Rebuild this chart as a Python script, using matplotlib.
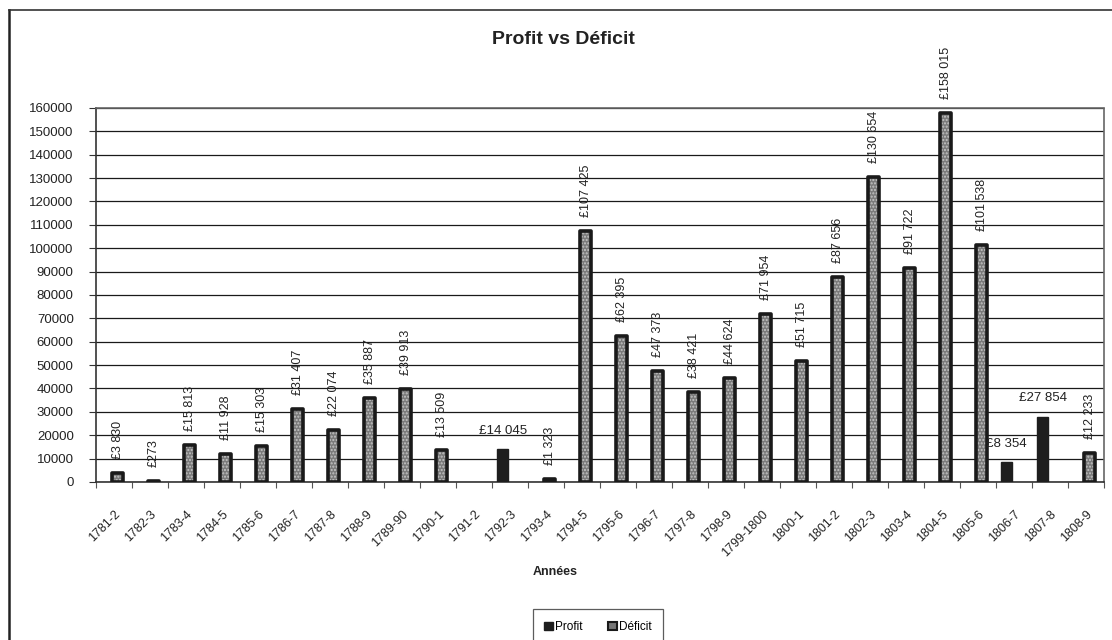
import numpy as np
import matplotlib as mpl
mpl.use('Agg')
import matplotlib.pyplot as plt
from matplotlib.lines import Line2D
from matplotlib.patches import Patch

plt.rcParams['font.family'] = ['Liberation Sans', 'DejaVu Sans']

# data
years = ['1781-2', '1782-3', '1783-4', '1784-5', '1785-6', '1786-7', '1787-8',
         '1788-9', '1789-90', '1790-1', '1791-2', '1792-3', '1793-4', '1794-5',
         '1795-6', '1796-7', '1797-8', '1798-9', '1799-1800', '1800-1', '1801-2',
         '1802-3', '1803-4', '1804-5', '1805-6', '1806-7', '1807-8', '1808-9']
deficit = [3830, 273, 15813, 11928, 15303, 31407, 22074, 35887, 39913, 13509,
           None, None, 1323, 107425, 62395, 47373, 38421, 44624, 71954, 51715,
           87656, 130654, 91722, 158015, 101538, None, None, 12233]
profit = [None] * 11 + [14045] + [None] * 13 + [8354, 27854, None]
yticks = np.arange(0, 160001, 10000)

def money(v):
    return '£' + format(v, ',').replace(',', ' ')

fig = plt.figure(figsize=(11.12, 6.4), dpi=100)
ax = fig.add_axes([0.0863, 0.2469, 0.9065, 0.5844])

idx = np.arange(len(years))
w = 0.3
def_x = [i + 0.1 for i, v in zip(idx, deficit) if v is not None]
def_y = [v for v in deficit if v is not None]
pro_x = [i - 0.2 for i, v in zip(idx, profit) if v is not None]
pro_y = [v for v in profit if v is not None]

ax.set_axisbelow(True)
ax.grid(axis='y', color='#1a1a1a', linewidth=0.9)

# deficit: grey speckled fill with a heavy dark outline
ax.bar(def_x, def_y, w, color='#7a7a7a', edgecolor='#c4c4c4', hatch='.....',
       linewidth=0, zorder=2)
ax.bar(def_x, def_y, w, facecolor='none', edgecolor='#1a1a1a', linewidth=2.6,
       joinstyle='round', zorder=3)
ax.bar(pro_x, pro_y, w, color='#1e1e1e', edgecolor='#1e1e1e', linewidth=1,
       zorder=3)

for x, v in zip(def_x, def_y):
    ax.annotate(money(v), (x, v), xytext=(0, 10), textcoords='offset points',
                rotation=90, ha='center', va='bottom', fontsize=9,
                color='#222222')
for x, v in zip(pro_x, pro_y):
    ax.annotate(money(v), (x, v), xytext=(0, 9), textcoords='offset points',
                ha='center', va='bottom', fontsize=9.5, color='#222222')

ax.set_xlim(-0.5, len(years) - 0.5)
ax.set_ylim(0, 160000)
ax.set_yticks(yticks)
ax.set_yticklabels([str(t) for t in yticks], fontsize=9.5, color='#222222')
ax.tick_params(axis='y', length=5, width=0.8, color='#333333', pad=11)

ax.set_xticks(idx)
ax.set_xticklabels(years, rotation=45, ha='right', rotation_mode='anchor',
                   fontsize=9, color='#222222')
ax.set_xticks(np.arange(-0.5, len(years)), minor=True)
ax.tick_params(axis='x', which='major', length=0, pad=19)
ax.tick_params(axis='x', which='minor', length=4, width=0.8, color='#555555')

for s in ['left', 'bottom']:
    ax.spines[s].set_color('#333333')
    ax.spines[s].set_linewidth(1.2)
for s in ['top', 'right']:
    ax.spines[s].set_color('#666666')
    ax.spines[s].set_linewidth(1.2)
    ax.spines[s].set_linestyle((0, (2, 1)))

fig.text(563 / 1112, 1 - 40 / 640, 'Profit vs Déficit', ha='center',
         va='center', fontsize=14, fontweight='bold', color='#222222')
fig.text(555 / 1112, 1 - 572 / 640, 'Années', ha='center', va='center',
         fontsize=9, fontweight='bold', color='#222222')

handles = [Patch(facecolor='#1e1e1e', edgecolor='#1e1e1e'),
           Patch(facecolor='#777777', edgecolor='#1a1a1a', linewidth=1.5)]
leg = fig.legend(handles, ['Profit', 'Déficit'], loc='upper center',
                 bbox_to_anchor=(598 / 1112, 1 - 609 / 640), ncol=2,
                 fontsize=8.5, frameon=True, fancybox=False,
                 handlelength=0.7, handleheight=0.7, handletextpad=0.2,
                 columnspacing=2.2, borderpad=1.0, borderaxespad=0)
leg.get_frame().set_edgecolor('#333333')
leg.get_frame().set_linewidth(0.9)

# outer chart frame (only left and top are visible in the scan)
fig.add_artist(Line2D([9 / 1112, 9 / 1112], [0, 1 - 10 / 640],
                      transform=fig.transFigure, color='#222222', linewidth=1.8))
fig.add_artist(Line2D([9 / 1112, 1], [1 - 10 / 640, 1 - 10 / 640],
                      transform=fig.transFigure, color='#333333', linewidth=1.2))

fig.savefig('out.png', dpi=100)
